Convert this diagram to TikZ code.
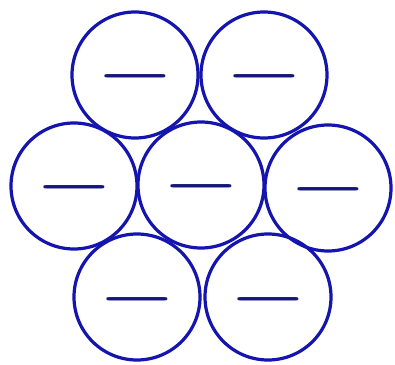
\documentclass[tikz,border=0pt]{standalone}
\usepackage{graphicx}
\usepackage{tikz}

\definecolor{ringblue}{RGB}{20,20,175}
\definecolor{chargeblue}{RGB}{22,22,120}

\newcommand{\charge}{\raisebox{-23pt}[0pt][0pt]{\scalebox{10}[8.5]{$-$}}}

\begin{document}
\begin{tikzpicture}[
        x=1pt, y=1pt,
        ion/.style={circle, draw=ringblue, line width=3.2pt, inner sep=0pt, minimum size=126pt, text=chargeblue}
    ]
    \useasboundingbox[fill=white] (0,0) rectangle (395,364);

    % Top row
    \node[ion] (top1) at (135,289) {\charge};
    \node[ion] (top2) at (264,289) {\charge};

    % Middle row
    \node[ion] (mid1) at (74,178) {\charge};
    \node[ion] (mid2) at (201,179) {\charge};
    \node[ion] (mid3) at (328,176) {\charge};

    % Bottom row
    \node[ion] (bot1) at (137,67) {\charge};
    \node[ion] (bot2) at (268,67) {\charge};

\end{tikzpicture}
\end{document}
